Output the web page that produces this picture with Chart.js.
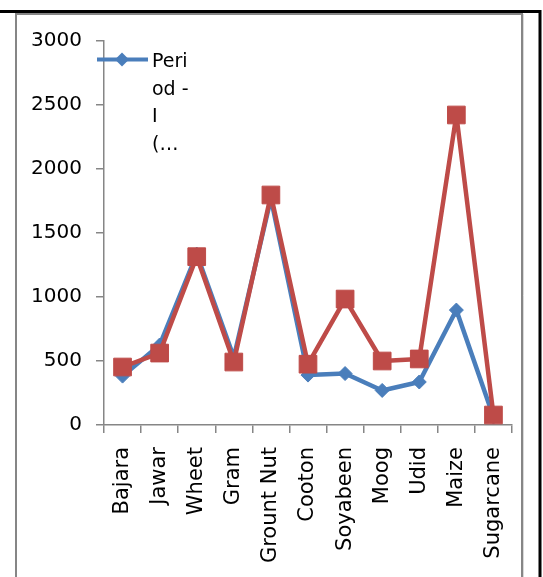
<!DOCTYPE html>
<html>
<head>
<meta charset="utf-8">
<script src="https://cdn.jsdelivr.net/npm/chart.js@4"></script>
<style>
  html, body { margin: 0; padding: 0; background: #ffffff; }
  #wrap { width: 543px; height: 577px; position: relative; }
</style>
</head>
<body>
<div id="wrap"><canvas id="c" width="543" height="577"></canvas></div>
<script>
// Crops and the two periods being compared
const crops = ["Bajara", "Jawar", "Wheet", "Gram", "Grount Nut", "Cooton", "Soyabeen", "Moog", "Udid", "Maize", "Sugarcane"];
const periodOne = [382, 625, 1335, 530, 1770, 390, 402, 270, 336, 898, 62];
const periodTwo = [453, 562, 1315, 492, 1797, 475, 984, 500, 516, 2422, 78];
const yTicks = [0, 500, 1000, 1500, 2000, 2500, 3000];
const legendLines = ["Peri", "od -", "I", "(…"];

const BLUE = "#4A7EBB";
const RED = "#BE4B48";
const AXIS = "#868686";
const FONT = "'DejaVu Sans', sans-serif";

// Outer frame around the figure and the chart-area border
const framePlugin = {
  id: "frame",
  beforeDraw(chart) {
    const ctx = chart.ctx;
    ctx.save();
    ctx.fillStyle = "#ffffff";
    ctx.fillRect(0, 0, chart.width, chart.height);
    // grey chart-area border
    ctx.strokeStyle = AXIS;
    ctx.lineWidth = 2;
    ctx.strokeRect(16, 14, 506, 600);
    ctx.strokeStyle = "#d9d9d9";
    ctx.lineWidth = 1;
    ctx.beginPath();
    ctx.moveTo(523.5, 14);
    ctx.lineTo(523.5, 577);
    ctx.stroke();
    // black frame (top and right)
    ctx.strokeStyle = "#000000";
    ctx.lineWidth = 3;
    ctx.beginPath();
    ctx.moveTo(0, 11.5);
    ctx.lineTo(540, 11.5);
    ctx.lineTo(540, 577);
    ctx.stroke();
    ctx.restore();
  }
};

// Legend entry for the first period, with its wrapped, truncated name
const legendPlugin = {
  id: "wrappedLegend",
  afterDraw(chart) {
    const ctx = chart.ctx;
    const ds = chart.data.datasets[1];
    ctx.save();
    ctx.strokeStyle = ds.borderColor;
    ctx.lineWidth = 4;
    ctx.beginPath();
    ctx.moveTo(97, 59.5);
    ctx.lineTo(148, 59.5);
    ctx.stroke();
    ctx.fillStyle = ds.pointBackgroundColor;
    ctx.beginPath();
    ctx.moveTo(122, 52.5);
    ctx.lineTo(129, 59.5);
    ctx.lineTo(122, 66.5);
    ctx.lineTo(115, 59.5);
    ctx.closePath();
    ctx.fill();
    ctx.fillStyle = "#000000";
    ctx.font = "19px " + FONT;
    ctx.textBaseline = "alphabetic";
    ctx.textAlign = "left";
    legendLines.forEach((t, i) => ctx.fillText(t, 152, 67 + i * 27.5));
    ctx.restore();
  }
};

new Chart(document.getElementById("c"), {
  type: "line",
  data: {
    labels: crops,
    datasets: [
      {
        label: "Period - II",
        data: periodTwo,
        order: 0,
        borderColor: RED,
        backgroundColor: RED,
        borderWidth: 4.5,
        borderJoinStyle: "round",
        pointStyle: "rect",
        pointRadius: 12.5,
        pointBackgroundColor: RED,
        pointBorderColor: RED,
        pointBorderWidth: 1,
        tension: 0
      },
      {
        label: "Period - I",
        data: periodOne,
        order: 1,
        borderColor: BLUE,
        backgroundColor: BLUE,
        borderWidth: 4.5,
        borderJoinStyle: "round",
        pointStyle: "rectRot",
        pointRadius: 7,
        pointBackgroundColor: BLUE,
        pointBorderColor: BLUE,
        pointBorderWidth: 1,
        tension: 0
      }
    ]
  },
  options: {
    responsive: false,
    animation: false,
    devicePixelRatio: 1,
    layout: { padding: { left: 0, top: 41, right: 31, bottom: 0 } },
    plugins: {
      legend: { display: false },
      tooltip: { enabled: false }
    },
    scales: {
      x: {
        offset: true,
        grid: {
          offset: true,
          drawOnChartArea: false,
          drawTicks: true,
          tickLength: 8,
          color: AXIS,
          lineWidth: 1.5
        },
        border: { display: true, color: AXIS, width: 1.5 },
        ticks: {
          autoSkip: false,
          minRotation: 90,
          maxRotation: 90,
          padding: 14,
          color: "#000000",
          font: { family: FONT, size: 21 }
        },
        afterFit(scale) { scale.height = 152; }
      },
      y: {
        min: 0,
        max: 3000,
        afterBuildTicks(scale) { scale.ticks = yTicks.map(v => ({ value: v })); },
        grid: {
          drawOnChartArea: false,
          drawTicks: true,
          tickLength: 8,
          color: AXIS,
          lineWidth: 1.5
        },
        border: { display: true, color: AXIS, width: 1.5 },
        ticks: {
          padding: 14,
          color: "#000000",
          font: { family: FONT, size: 20 },
          callback: (v) => String(v)
        },
        afterFit(scale) { scale.width = 104; }
      }
    }
  },
  plugins: [framePlugin, legendPlugin]
});
</script>
</body>
</html>
